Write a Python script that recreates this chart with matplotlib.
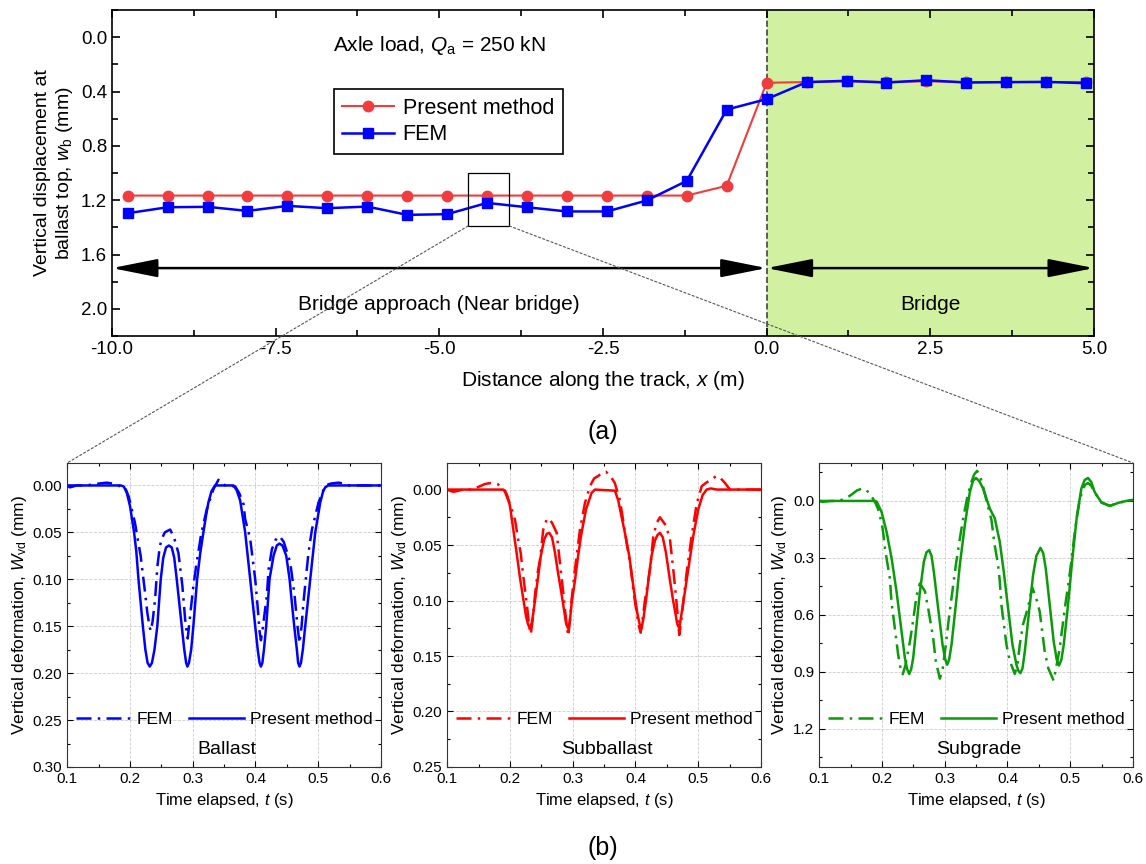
import numpy as np
import matplotlib
matplotlib.use("Agg")
import matplotlib.pyplot as plt
from matplotlib.patches import Rectangle, ConnectionPatch
from matplotlib.ticker import MultipleLocator, FormatStrFormatter

plt.rcParams['font.family'] = ['Liberation Sans', 'DejaVu Sans']
plt.rcParams['mathtext.fontset'] = 'custom'
plt.rcParams['mathtext.rm'] = 'Liberation Sans'
plt.rcParams['mathtext.it'] = 'Liberation Sans:italic'
plt.rcParams['xtick.direction'] = 'in'
plt.rcParams['ytick.direction'] = 'in'

# ---- (a) displacement along the track ----
x_pos = [-9.76, -9.15, -8.54, -7.93, -7.32, -6.71, -6.10, -5.49, -4.88, -4.27,
         -3.66, -3.05, -2.44, -1.83, -1.22, -0.61, 0.0,
         0.61, 1.22, 1.83, 2.44, 3.05, 3.66, 4.27, 4.88]
wb_present = [1.166, 1.166, 1.166, 1.166, 1.166, 1.166, 1.166, 1.166, 1.166, 1.166,
              1.166, 1.166, 1.166, 1.166, 1.166, 1.094, 0.336,
              0.330, 0.325, 0.330, 0.325, 0.330, 0.330, 0.330, 0.330]
wb_fem = [1.296, 1.252, 1.249, 1.279, 1.242, 1.259, 1.247, 1.308, 1.303, 1.220,
          1.252, 1.283, 1.283, 1.202, 1.058, 0.533, 0.456,
          0.331, 0.321, 0.334, 0.317, 0.334, 0.331, 0.329, 0.339]

# ---- (b) time histories below the sleeper at x = -4.27 m ----
t_bal_pm = [0.100, 0.104, 0.110, 0.115, 0.185, 0.190, 0.195, 0.200, 0.2065, 0.210,
            0.2135, 0.217, 0.2205, 0.2245, 0.228, 0.2315, 0.235, 0.239, 0.2435, 0.249,
            0.253, 0.2575, 0.262, 0.2665, 0.2705, 0.2745, 0.2785, 0.2825, 0.2865, 0.2895,
            0.2915, 0.294, 0.2975, 0.301, 0.307, 0.312, 0.317, 0.321, 0.325, 0.330,
            0.3355, 0.365, 0.370, 0.3756, 0.3836, 0.3876, 0.3916, 0.3956, 0.3996, 0.4036,
            0.4065, 0.4087, 0.411, 0.4135, 0.4171, 0.4224, 0.4288, 0.434, 0.4383, 0.443,
            0.4491, 0.4544, 0.458, 0.4618, 0.466, 0.468, 0.4702, 0.4725, 0.4755, 0.4793,
            0.4873, 0.4953, 0.5033, 0.508, 0.5113, 0.516, 0.600]
w_bal_pm = [0.000, 0.002, 0.001, 0.000, 0.000, 0.001, 0.008, 0.022, 0.050, 0.070,
            0.100, 0.125, 0.150, 0.175, 0.189, 0.193, 0.189, 0.175, 0.150, 0.100,
            0.077, 0.066, 0.064, 0.066, 0.077, 0.100, 0.125, 0.150, 0.175, 0.189,
            0.193, 0.189, 0.175, 0.150, 0.100, 0.072, 0.050, 0.033, 0.018, 0.006,
            0.000, 0.000, 0.005, 0.016, 0.050, 0.075, 0.100, 0.125, 0.150, 0.175,
            0.189, 0.193, 0.189, 0.175, 0.150, 0.100, 0.075, 0.064, 0.062, 0.064,
            0.075, 0.100, 0.125, 0.150, 0.175, 0.189, 0.193, 0.189, 0.175, 0.150,
            0.100, 0.050, 0.018, 0.006, 0.002, 0.000, 0.000]
t_bal_fem = [0.100, 0.130, 0.150, 0.163, 0.172, 0.180, 0.192, 0.198, 0.203, 0.208,
             0.2125, 0.217, 0.2205, 0.224, 0.2275, 0.231, 0.233, 0.236, 0.240, 0.2437,
             0.2475, 0.2506, 0.2555, 0.2639, 0.270, 0.2772, 0.2835, 0.2878, 0.291, 0.292,
             0.2958, 0.3005, 0.3054, 0.3134, 0.3225, 0.333, 0.341, 0.346, 0.352, 0.3676,
             0.374, 0.381, 0.3836, 0.389, 0.3916, 0.3996, 0.4033, 0.4065, 0.4087, 0.412,
             0.4182, 0.421, 0.4262, 0.432, 0.4383, 0.445, 0.4554, 0.4623, 0.467, 0.4702,
             0.4735, 0.4766, 0.4846, 0.490, 0.5006, 0.5113, 0.520, 0.5325, 0.540, 0.550,
             0.600]
w_bal_fem = [0.000, 0.000, -0.002, -0.003, -0.002, 0.000, 0.002, 0.012, 0.026, 0.040,
             0.058, 0.075, 0.095, 0.114, 0.135, 0.150, 0.155, 0.145, 0.121, 0.086,
             0.065, 0.057, 0.050, 0.047, 0.055, 0.072, 0.107, 0.142, 0.160, 0.163,
             0.139, 0.110, 0.086, 0.052, 0.025, 0.004, -0.006, -0.002, 0.000, 0.001,
             0.008, 0.020, 0.036, 0.050, 0.057, 0.100, 0.128, 0.155, 0.165, 0.150,
             0.117, 0.089, 0.068, 0.058, 0.054, 0.060, 0.082, 0.117, 0.150, 0.168,
             0.150, 0.124, 0.071, 0.047, 0.018, 0.000, -0.002, -0.003, -0.002, 0.000,
             0.000]

t_sub_pm = [0.100, 0.104, 0.110, 0.118, 0.125, 0.189, 0.192, 0.196, 0.200, 0.205,
            0.2105, 0.216, 0.221, 0.2255, 0.2285, 0.2318, 0.2355, 0.2398, 0.2445, 0.249,
            0.2545, 0.2585, 0.2626, 0.267, 0.2717, 0.2765, 0.281, 0.286, 0.2895, 0.2929,
            0.2955, 0.2983, 0.3035, 0.308, 0.3131, 0.3211, 0.330, 0.3354, 0.3673, 0.3726,
            0.378, 0.3835, 0.3901, 0.3965, 0.4028, 0.4065, 0.4098, 0.413, 0.4167, 0.421,
            0.4255, 0.431, 0.435, 0.439, 0.4435, 0.4486, 0.455, 0.460, 0.4635, 0.4665,
            0.4698, 0.4725, 0.4761, 0.4841, 0.4921, 0.500, 0.507, 0.5135, 0.520, 0.530,
            0.600]
w_sub_pm = [0.000, 0.001, 0.002, 0.001, 0.000, 0.000, 0.001, 0.006, 0.015, 0.035,
            0.057, 0.080, 0.098, 0.114, 0.121, 0.1255, 0.118, 0.100, 0.080, 0.060,
            0.045, 0.040, 0.039, 0.043, 0.057, 0.075, 0.090, 0.108, 0.121, 0.1255,
            0.118, 0.102, 0.082, 0.062, 0.042, 0.018, 0.003, 0.000, 0.001, 0.010,
            0.025, 0.040, 0.060, 0.087, 0.111, 0.121, 0.125, 0.115, 0.100, 0.080,
            0.060, 0.046, 0.041, 0.039, 0.043, 0.057, 0.082, 0.100, 0.111, 0.121,
            0.125, 0.115, 0.102, 0.072, 0.042, 0.018, 0.005, 0.000, -0.001, 0.000,
            0.000]
t_sub_fem = [0.100, 0.140, 0.152, 0.160, 0.170, 0.180, 0.187, 0.192, 0.196, 0.200,
             0.2079, 0.213, 0.217, 0.2211, 0.2265, 0.230, 0.233, 0.236, 0.2398, 0.244,
             0.2478, 0.253, 0.2584, 0.262, 0.267, 0.2744, 0.2796, 0.2849, 0.2895, 0.2929,
             0.296, 0.298, 0.3035, 0.3115, 0.3195, 0.3274, 0.334, 0.3407, 0.347, 0.353,
             0.360, 0.367, 0.3753, 0.381, 0.3865, 0.392, 0.3965, 0.401, 0.405, 0.4082,
             0.411, 0.415, 0.4195, 0.4231, 0.4284, 0.4338, 0.439, 0.4486, 0.455, 0.4602,
             0.4645, 0.4675, 0.4698, 0.473, 0.4761, 0.4815, 0.4895, 0.4975, 0.5055, 0.5124,
             0.520, 0.5294, 0.536, 0.5426, 0.5506, 0.600]
w_sub_fem = [0.000, 0.000, -0.003, -0.005, -0.006, -0.005, -0.002, 0.002, 0.008, 0.013,
             0.027, 0.045, 0.057, 0.078, 0.102, 0.120, 0.1306, 0.118, 0.095, 0.075,
             0.063, 0.036, 0.027, 0.026, 0.030, 0.039, 0.066, 0.093, 0.118, 0.132,
             0.115, 0.100, 0.072, 0.036, 0.012, -0.003, -0.010, -0.0123, -0.015, -0.016,
             -0.012, -0.006, 0.010, 0.030, 0.050, 0.068, 0.090, 0.108, 0.122, 0.129,
             0.118, 0.100, 0.085, 0.072, 0.042, 0.030, 0.025, 0.0325, 0.045, 0.072,
             0.096, 0.115, 0.131, 0.118, 0.102, 0.075, 0.042, 0.013, -0.003, -0.006,
             -0.009, -0.0123, -0.010, -0.006, 0.000, 0.000]

t_sg_pm = [0.100, 0.105, 0.110, 0.120, 0.186, 0.1914, 0.1993, 0.2073, 0.2153, 0.2232,
           0.2312, 0.2365, 0.2400, 0.2434, 0.2465, 0.2497, 0.2551, 0.2604, 0.2667, 0.2710,
           0.2752, 0.2790, 0.2826, 0.2895, 0.2965, 0.3005, 0.3038, 0.3070, 0.3108, 0.3188,
           0.324, 0.332, 0.340, 0.345, 0.3495, 0.355, 0.3612, 0.3718, 0.3798, 0.3877,
           0.3941, 0.401, 0.408, 0.4143, 0.4175, 0.4207, 0.4240, 0.4276, 0.4344, 0.4408,
           0.446, 0.4525, 0.457, 0.461, 0.4674, 0.4737, 0.4785, 0.4822, 0.4860, 0.4897,
           0.4965, 0.5035, 0.5108, 0.5178, 0.523, 0.5283, 0.5335, 0.539, 0.5497, 0.563,
           0.5788, 0.5948, 0.600]
w_sg_pm = [0.000, 0.005, 0.003, 0.000, 0.000, 0.003, 0.058, 0.163, 0.302, 0.478,
           0.688, 0.827, 0.885, 0.911, 0.885, 0.827, 0.652, 0.478, 0.320, 0.270,
           0.259, 0.290, 0.373, 0.565, 0.757, 0.830, 0.862, 0.835, 0.757, 0.512,
           0.337, 0.128, -0.047, -0.105, -0.121, -0.105, -0.065, 0.040, 0.092, 0.215,
           0.373, 0.565, 0.757, 0.862, 0.895, 0.906, 0.880, 0.793, 0.583, 0.390,
           0.290, 0.247, 0.275, 0.355, 0.548, 0.740, 0.835, 0.866, 0.835, 0.757,
           0.548, 0.302, 0.075, -0.065, -0.110, -0.121, -0.100, -0.047, 0.008, 0.026,
           0.008, -0.004, -0.005]
t_sg_fem = [0.100, 0.130, 0.140, 0.150, 0.160, 0.168, 0.175, 0.182, 0.188, 0.1935,
            0.1965, 0.1993, 0.202, 0.2047, 0.2126, 0.2153, 0.2178, 0.2258, 0.2295, 0.233,
            0.237, 0.2445, 0.250, 0.255, 0.2604, 0.2683, 0.2736, 0.2815, 0.2858, 0.2922,
            0.2965, 0.3017, 0.3065, 0.312, 0.318, 0.324, 0.330, 0.336, 0.342, 0.347,
            0.3516, 0.356, 0.3615, 0.3666, 0.3745, 0.379, 0.385, 0.3877, 0.3904, 0.3984,
            0.4037, 0.4116, 0.416, 0.4196, 0.4248, 0.4328, 0.4395, 0.4471, 0.4514, 0.4594,
            0.465, 0.4735, 0.4775, 0.483, 0.4885, 0.4925, 0.4965, 0.5018, 0.506, 0.510,
            0.514, 0.518, 0.5235, 0.5283, 0.5335, 0.539, 0.5497, 0.563, 0.5788, 0.600]
w_sg_fem = [0.000, 0.000, -0.010, -0.030, -0.055, -0.065, -0.058, -0.030, 0.000, 0.040,
            0.080, 0.110, 0.170, 0.250, 0.410, 0.539, 0.600, 0.810, 0.880, 0.912,
            0.870, 0.740, 0.620, 0.500, 0.434, 0.474, 0.565, 0.720, 0.845, 0.935,
            0.890, 0.757, 0.620, 0.480, 0.330, 0.200, 0.080, -0.020, -0.095, -0.140,
            -0.158, -0.135, -0.070, 0.000, 0.100, 0.220, 0.337, 0.420, 0.548, 0.757,
            0.841, 0.910, 0.860, 0.757, 0.650, 0.560, 0.455, 0.527, 0.583, 0.793,
            0.880, 0.945, 0.880, 0.780, 0.640, 0.540, 0.450, 0.320, 0.200, 0.100,
            0.020, -0.040, -0.085, -0.094, -0.080, -0.045, 0.008, 0.026, 0.008, -0.005]

layers = ['Ballast', 'Subballast', 'Subgrade']
layer_colors = ['#0000ff', '#ff0000', '#0a9a0a']
layer_pm = [(t_bal_pm, w_bal_pm), (t_sub_pm, w_sub_pm), (t_sg_pm, w_sg_pm)]
layer_fem = [(t_bal_fem, w_bal_fem), (t_sub_fem, w_sub_fem), (t_sg_fem, w_sg_fem)]
layer_ylim = [(0.30, -0.024), (0.25, -0.024), (1.4, -0.2)]
layer_ymajor = [0.05, 0.05, 0.3]
layer_yfmt = ['%.2f', '%.2f', '%.1f']

fig = plt.figure(figsize=(11.46, 8.64), dpi=100)

ax = fig.add_axes([0.0977, 0.6111, 0.8569, 0.3773])
ax.axvspan(0, 5, color='#d1f1a0', zorder=0)
ax.axvline(0, color='#444444', ls='--', lw=1.2, zorder=1)
ax.plot(x_pos, wb_present, '-o', color='#f03c3c', lw=1.5, ms=7.5, label='Present method', zorder=3)
ax.plot(x_pos, wb_fem, '-s', color='#0000ff', lw=1.8, ms=7, label='FEM', zorder=4)
ax.set_xlim(-10, 5)
ax.set_ylim(2.2, -0.2)
ax.xaxis.set_major_locator(MultipleLocator(2.5))
ax.xaxis.set_minor_locator(MultipleLocator(1.25))
ax.yaxis.set_major_locator(MultipleLocator(0.4))
ax.yaxis.set_minor_locator(MultipleLocator(0.2))
ax.yaxis.set_major_formatter(FormatStrFormatter('%.1f'))
ax.xaxis.set_major_formatter(FormatStrFormatter('%.1f'))
ax.tick_params(which='both', top=True, right=True, width=1.2)
ax.tick_params(which='major', length=6, labelsize=13.5)
ax.tick_params(which='minor', length=4)
for s in ax.spines.values():
    s.set_linewidth(1.2)
ax.set_xlabel('Distance along the track, $x$ (m)', fontsize=15, labelpad=8)
ax.set_ylabel('Vertical displacement at\nballast top, $w_\\mathrm{b}$ (mm)', fontsize=14)

arrow_style = dict(arrowstyle='<|-|>,head_length=1.4,head_width=0.28', color='black',
                   lw=1.8, mutation_scale=20, shrinkA=0, shrinkB=0)
ax.annotate('', xy=(-10, 1.7), xytext=(0, 1.7), arrowprops=arrow_style, zorder=5)
ax.annotate('', xy=(0, 1.7), xytext=(5, 1.7), arrowprops=arrow_style, zorder=5)
ax.text(-5, 1.97, 'Bridge approach (Near bridge)', ha='center', va='center', fontsize=15)
ax.text(2.5, 1.97, 'Bridge', ha='center', va='center', fontsize=15)
ax.text(-5, 0.06, 'Axle load, $Q_\\mathrm{a}$ = 250 kN', ha='center', va='center', fontsize=15)
leg = ax.legend(loc='upper left', bbox_to_anchor=(0.215, 0.79), fontsize=15.5, frameon=True,
                fancybox=False, edgecolor='black', handlelength=2.4, borderpad=0.4,
                labelspacing=0.25, handletextpad=0.4)
leg.get_frame().set_linewidth(1.2)
leg.get_frame().set_alpha(1)

# sleeper picked for the time histories
ax.add_patch(Rectangle((-4.56, 1.0), 0.63, 0.39, fill=False, ec='black', lw=0.9, zorder=6))

bottom_axes = []
lefts = [0.0587, 0.3903, 0.7149]
for i, name in enumerate(layers):
    b = fig.add_axes([lefts[i], 0.1123, 0.2737, 0.3519])
    c = layer_colors[i]
    b.plot(layer_fem[i][0], layer_fem[i][1], color=c, lw=1.8,
           ls=(0, (6, 2.5, 1, 2.5)), label='FEM')
    b.plot(layer_pm[i][0], layer_pm[i][1], color=c, lw=1.8, label='Present method')
    b.set_xlim(0.1, 0.6)
    b.set_ylim(*layer_ylim[i])
    b.xaxis.set_major_locator(MultipleLocator(0.1))
    b.xaxis.set_minor_locator(MultipleLocator(0.05))
    b.yaxis.set_major_locator(MultipleLocator(layer_ymajor[i]))
    b.yaxis.set_minor_locator(MultipleLocator(layer_ymajor[i] / 2))
    b.yaxis.set_major_formatter(FormatStrFormatter(layer_yfmt[i]))
    b.xaxis.set_major_formatter(FormatStrFormatter('%.1f'))
    b.grid(True, which='major', color='#cccccc', ls='--', lw=0.6)
    b.tick_params(which='both', top=True, right=True, width=0.8, labelsize=11)
    b.tick_params(which='major', length=4)
    b.tick_params(which='minor', length=2.5)
    for s in b.spines.values():
        s.set_linewidth(0.8)
        s.set_color('#333333')
    b.set_xlabel('Time elapsed, $t$ (s)', fontsize=12)
    b.set_ylabel('Vertical deformation, $W_\\mathrm{vd}$ (mm)', fontsize=12.5, labelpad=3)
    b.legend(loc='center', bbox_to_anchor=(0.5, 0.155), ncol=2, frameon=False, fontsize=12.5,
             handlelength=3.2, columnspacing=0.9, handletextpad=0.3)
    b.text(0.51, 0.056, name, transform=b.transAxes, ha='center', va='center', fontsize=14)
    bottom_axes.append(b)

# dotted guide lines from the sleeper box to the detail panels
for xy_box, target, corner in [((-4.56, 1.39), bottom_axes[0], (0, 1)),
                               ((-3.93, 1.39), bottom_axes[2], (1, 1))]:
    con = ConnectionPatch(xyA=xy_box, coordsA=ax.transData, xyB=corner,
                          coordsB=target.transAxes, color='#555555', lw=0.8, ls=(0, (2, 2)))
    fig.add_artist(con)

fig.text(0.526, 0.5, '(a)', ha='center', va='center', fontsize=18)
fig.text(0.526, 0.018, '(b)', ha='center', va='center', fontsize=18)

fig.savefig('out.png', dpi=100)
